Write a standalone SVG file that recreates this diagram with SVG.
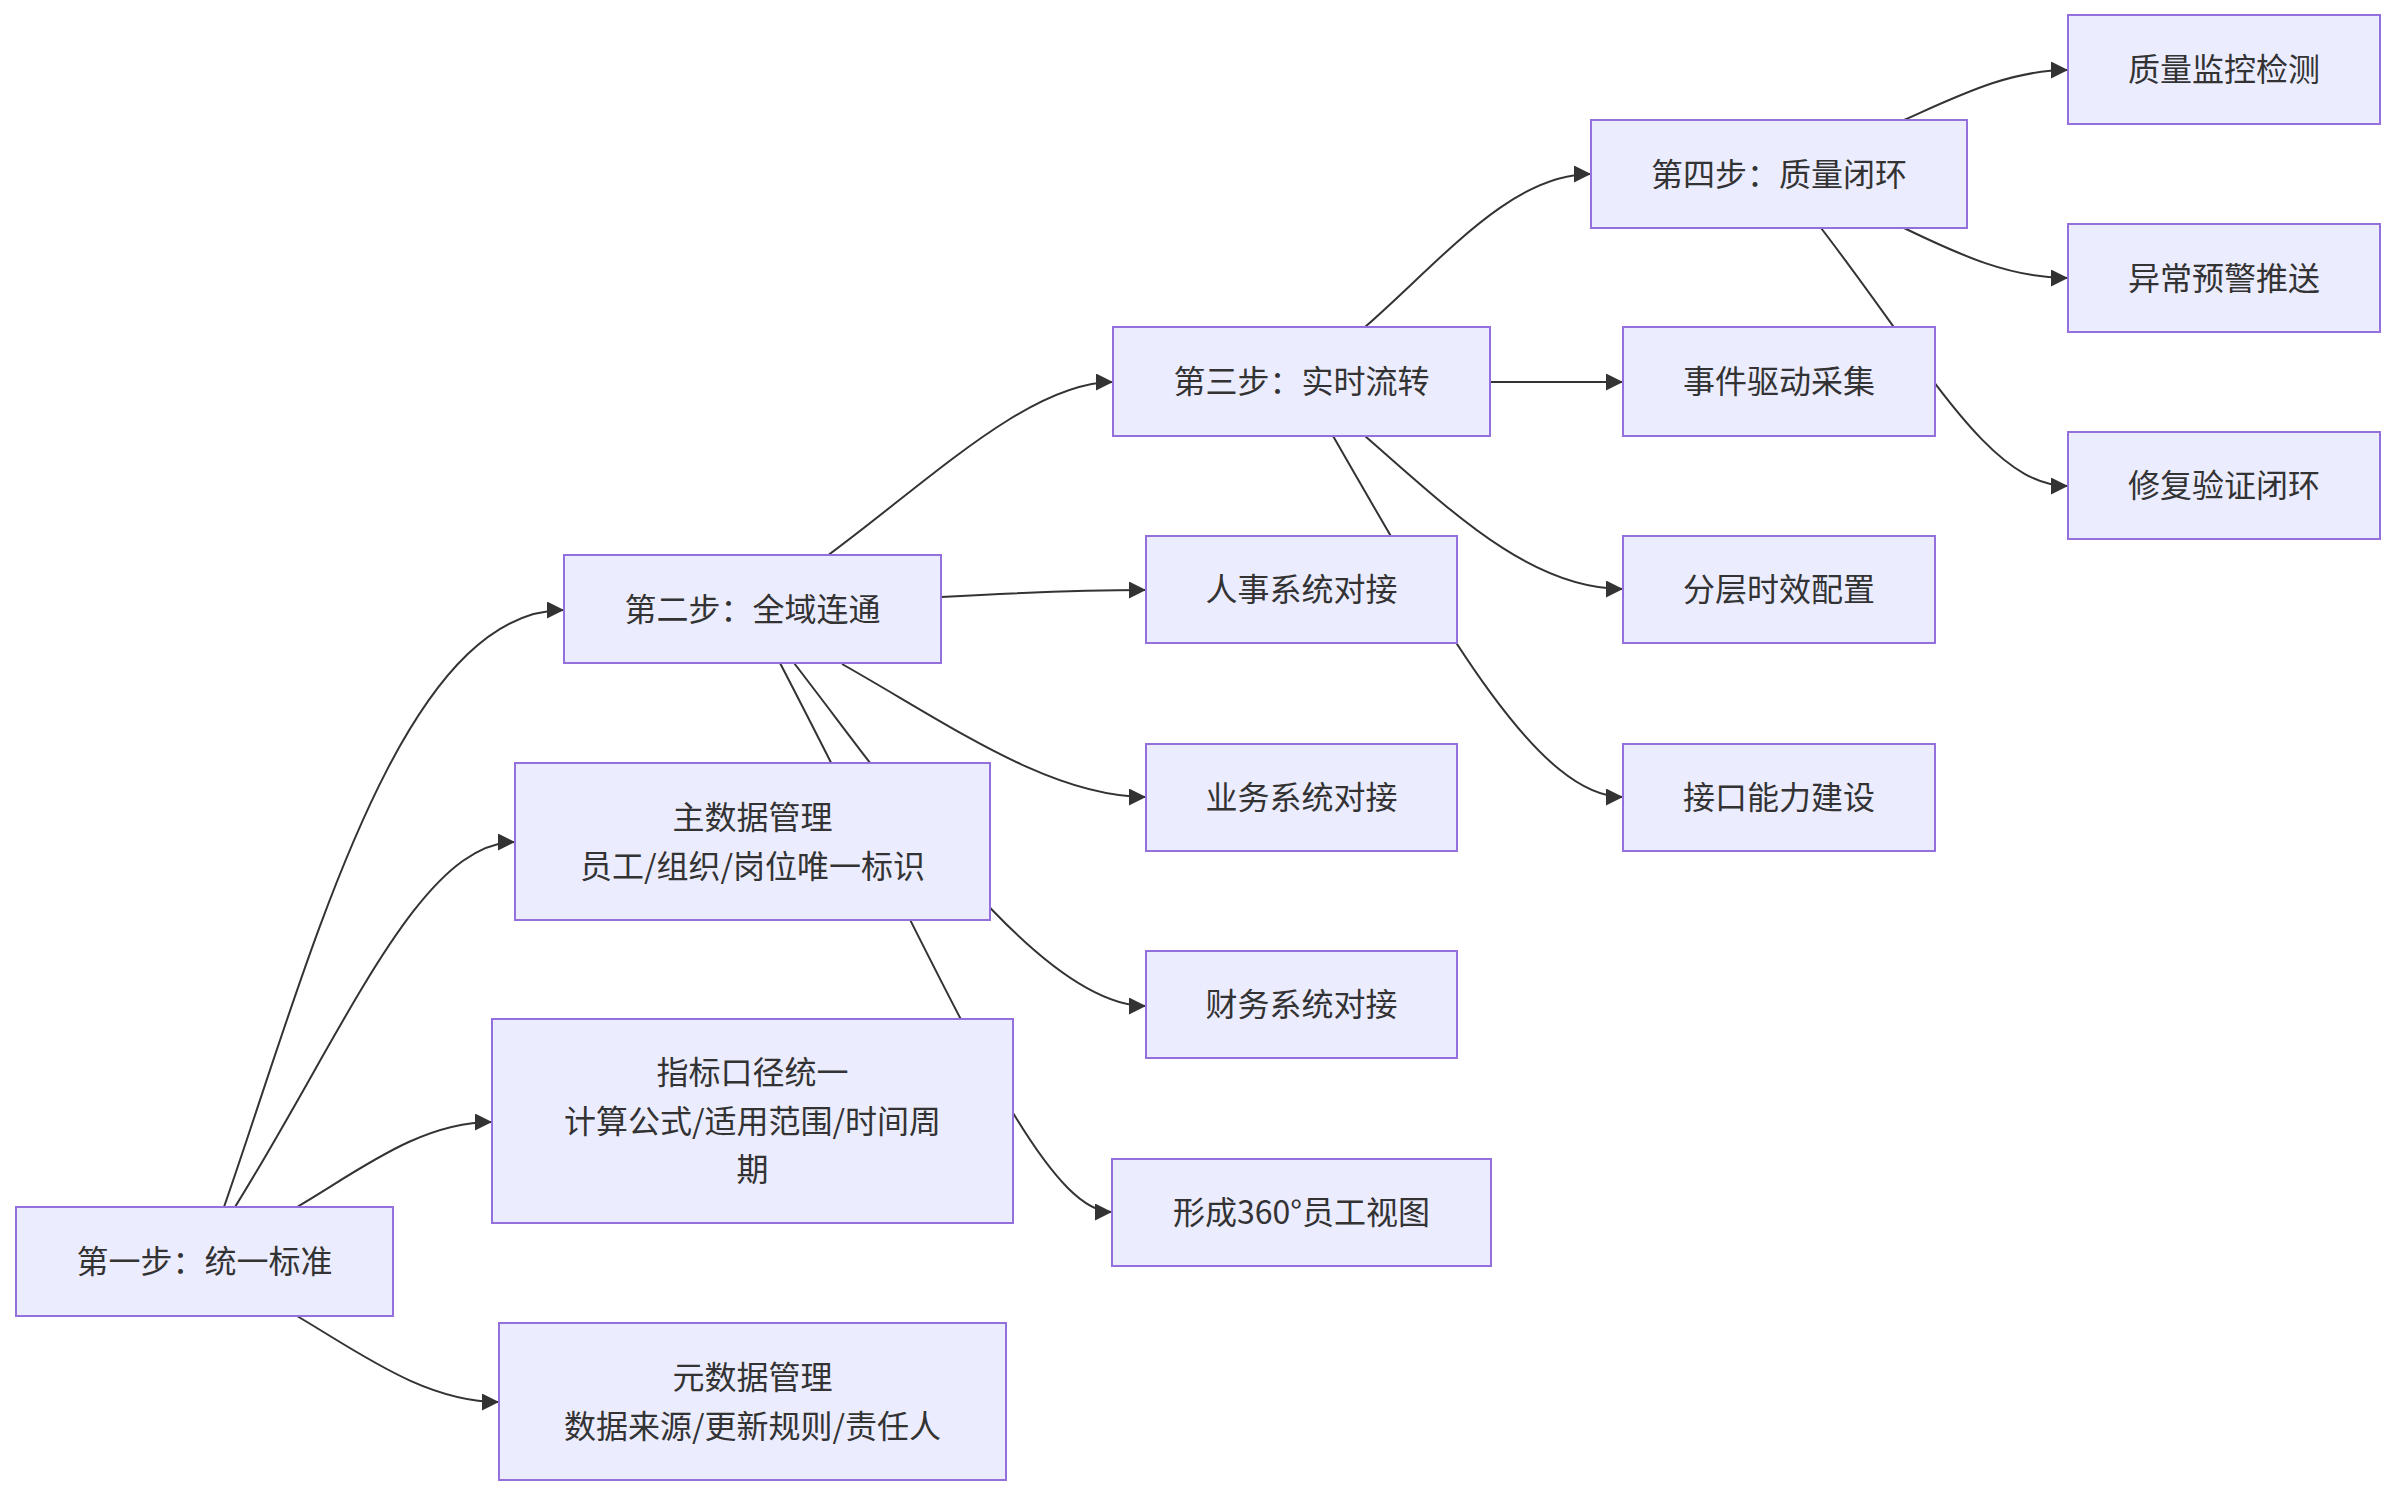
<svg xmlns="http://www.w3.org/2000/svg" width="2395" height="1496" viewBox="0 0 2395 1496">
<style>
.node rect{fill:#ECECFF;stroke:#9370DB;stroke-width:2}
.node text{font-family:"Noto Sans CJK SC","Liberation Sans",sans-serif;font-size:32px;fill:#333333;text-anchor:middle;dominant-baseline:central}
.edge{fill:none;stroke:#333333;stroke-width:2;marker-end:url(#arrow)}
</style>
<defs>
<marker id="arrow" viewBox="0 0 10 10" refX="10" refY="5" markerUnits="userSpaceOnUse" markerWidth="17" markerHeight="17" orient="auto">
<path d="M0,0 L10,5 L0,10 z" fill="#333333"/>
</marker>
</defs>
<rect width="2395" height="1496" fill="#ffffff"/>
<g id="connectors">
<path class="edge" d="M224,1207 C310,960 400,610 564,610"/>
<path class="edge" d="M235,1207 C345,1030 420,842 515,842"/>
<path class="edge" d="M297,1207 C360,1170 420,1122 492,1122"/>
<path class="edge" d="M297,1316 C360,1353 425,1402 499,1402"/>
<path class="edge" d="M827,556 C930,480 1030,382 1113,382"/>
<path class="edge" d="M941,597 C1030,592 1080,590 1146,590"/>
<path class="edge" d="M842,664 C950,725 1050,797 1146,797"/>
<path class="edge" d="M794,663 C900,800 1040,1006 1146,1006"/>
<path class="edge" d="M780,663 C950,990 1040,1212 1112,1212"/>
<path class="edge" d="M1365,327 C1440,262 1510,174 1591,174"/>
<path class="edge" d="M1490,382 L1623,382"/>
<path class="edge" d="M1365,436 C1450,510 1530,589 1623,589"/>
<path class="edge" d="M1333,436 C1450,640 1540,797 1623,797"/>
<path class="edge" d="M1904,120 C1960,95 2010,70 2068,70"/>
<path class="edge" d="M1904,228 C1960,255 2010,278 2068,278"/>
<path class="edge" d="M1821,228 C1930,370 1990,486 2068,486"/>
</g>
<g id="n1" class="node"><rect x="16" y="1207" width="377" height="109"/><text x="204.5" y="1259">第一步：统一标准</text></g>
<g id="n2" class="node"><rect x="564" y="555" width="377" height="108"/><text x="752.5" y="606.5">第二步：全域连通</text></g>
<g id="n3" class="node"><rect x="515" y="763" width="475" height="157"/><text x="752.5" y="815">主数据管理</text><text x="752.5" y="863.5">员工/组织/岗位唯一标识</text></g>
<g id="n4" class="node"><rect x="492" y="1019" width="521" height="204"/><text x="752.5" y="1070">指标口径统一</text><text x="752.5" y="1118.5">计算公式/适用范围/时间周</text><text x="752.5" y="1167">期</text></g>
<g id="n5" class="node"><rect x="499" y="1323" width="507" height="157"/><text x="752.5" y="1375">元数据管理</text><text x="752.5" y="1423.5">数据来源/更新规则/责任人</text></g>
<g id="n6" class="node"><rect x="1113" y="327" width="377" height="109"/><text x="1301.5" y="379">第三步：实时流转</text></g>
<g id="n7" class="node"><rect x="1146" y="536" width="311" height="107"/><text x="1301.5" y="587">人事系统对接</text></g>
<g id="n8" class="node"><rect x="1146" y="744" width="311" height="107"/><text x="1301.5" y="795">业务系统对接</text></g>
<g id="n9" class="node"><rect x="1146" y="951" width="311" height="107"/><text x="1301.5" y="1002">财务系统对接</text></g>
<g id="n10" class="node"><rect x="1112" y="1159" width="379" height="107"/><text x="1301.5" y="1210">形成360°员工视图</text></g>
<g id="n11" class="node"><rect x="1591" y="120" width="376" height="108"/><text x="1779" y="171.5">第四步：质量闭环</text></g>
<g id="n12" class="node"><rect x="1623" y="327" width="312" height="109"/><text x="1779" y="379">事件驱动采集</text></g>
<g id="n13" class="node"><rect x="1623" y="536" width="312" height="107"/><text x="1779" y="587">分层时效配置</text></g>
<g id="n14" class="node"><rect x="1623" y="744" width="312" height="107"/><text x="1779" y="795">接口能力建设</text></g>
<g id="n15" class="node"><rect x="2068" y="15" width="312" height="109"/><text x="2224" y="67">质量监控检测</text></g>
<g id="n16" class="node"><rect x="2068" y="224" width="312" height="108"/><text x="2224" y="275.5">异常预警推送</text></g>
<g id="n17" class="node"><rect x="2068" y="432" width="312" height="107"/><text x="2224" y="483">修复验证闭环</text></g>
</svg>
